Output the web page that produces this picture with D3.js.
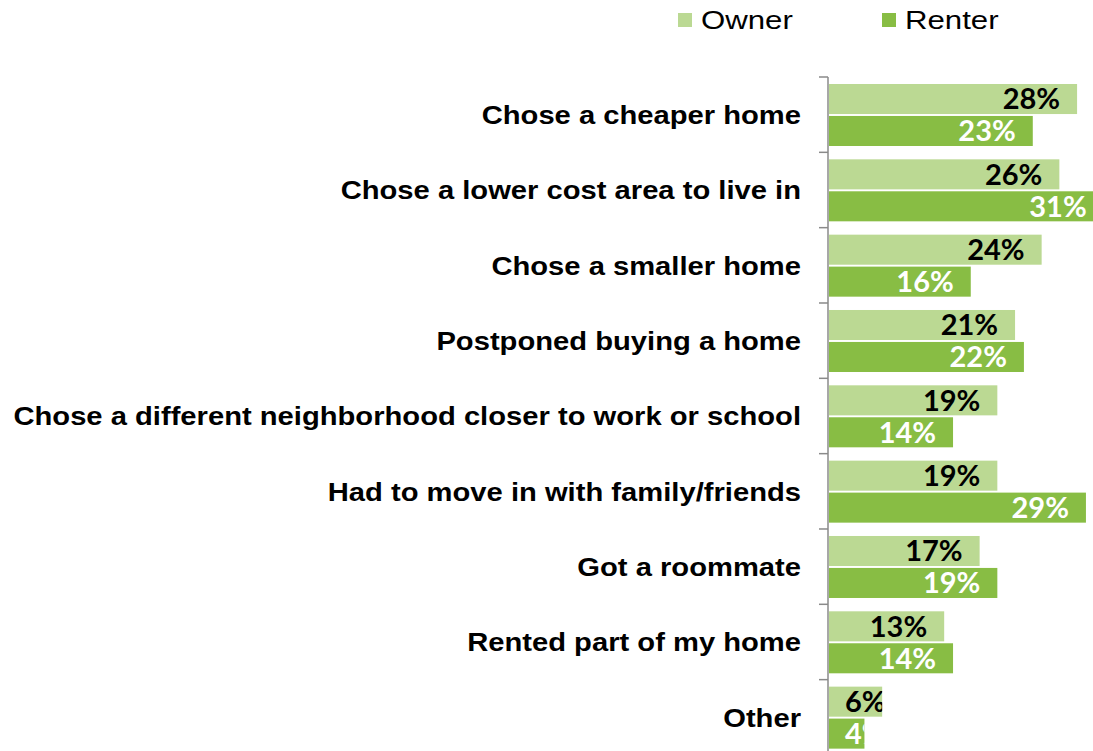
<!DOCTYPE html>
<html>
<head>
<meta charset="utf-8">
<script src="https://cdn.jsdelivr.net/npm/d3@7"></script>
<style>
  html, body { margin: 0; padding: 0; background: #fff; }
  svg { display: block; }
</style>
</head>
<body>
<svg id="chart" width="1093" height="751"></svg>
<script>
// Ways households cut housing costs, by tenure (percent)
const categories = [
  "Chose a cheaper home",
  "Chose a lower cost area to live in",
  "Chose a smaller home",
  "Postponed buying a home",
  "Chose a different neighborhood closer to work or school",
  "Had to move in with family/friends",
  "Got a roommate",
  "Rented part of my home",
  "Other"
];
const seriesNames = ["Owner", "Renter"];
const ownerValues  = [28, 26, 24, 21, 19, 19, 17, 13, 6];
const renterValues = [23, 31, 16, 22, 14, 29, 19, 14, 4];
const colors = { Owner: "#BBD993", Renter: "#88BD44" };

const rows = categories.map((c, i) => ({
  category: c,
  values: [
    { series: "Owner",  value: ownerValues[i] },
    { series: "Renter", value: renterValues[i] }
  ]
}));

const svg = d3.select("#chart");

const y0 = d3.scaleBand().domain(categories).range([77, 77 + 75.33 * categories.length]).padding(0);
const y1 = d3.scaleBand().domain(seriesNames).range([7, 69]).paddingInner(0.06);
const x = d3.scaleLinear().domain([0, 35]).range([829, 829 + 35 * 8.86]);

const defs = svg.append("defs");

// bars with value labels clipped to each bar
const groups = svg.append("g").selectAll("g.cat")
  .data(rows).join("g")
  .attr("class", "cat")
  .attr("transform", d => `translate(0,${y0(d.category)})`);

groups.each(function (d, i) {
  const g = d3.select(this);
  d.values.forEach((v, j) => {
    const by = y1(v.series);
    const bw = x(v.value) - x(0);
    const id = `clip-${i}-${j}`;
    defs.append("clipPath").attr("id", id)
      .append("rect")
      .attr("x", x(0)).attr("y", y0(d.category) + by)
      .attr("width", bw).attr("height", y1.bandwidth());
    g.append("rect")
      .attr("x", x(0)).attr("y", by)
      .attr("width", bw).attr("height", y1.bandwidth())
      .attr("fill", colors[v.series]);
    const t = svg.append("text")
      .attr("clip-path", `url(#${id})`)
      .attr("y", y0(d.category) + by + y1.bandwidth() / 2)
      .attr("dy", "0.36em")
      .attr("font-family", "Lato, 'Open Sans', sans-serif")
      .attr("font-weight", "bold")
      .attr("font-size", 29)
      .attr("fill", v.series === "Owner" ? "#000" : "#fff")
      .text(v.value + "%");
    const w = t.node().getComputedTextLength();
    const end = Math.max(x(v.value) - 17, x(0) + 16 + w);
    t.attr("x", end).attr("text-anchor", "end");
  });
});

// category axis
const axisColor = "#8A8A8A";
svg.append("line")
  .attr("x1", 828).attr("x2", 828)
  .attr("y1", y0.range()[0]).attr("y2", y0.range()[1])
  .attr("stroke", axisColor).attr("stroke-width", 1.5);
const boundaries = categories.map(c => y0(c)).concat([y0.range()[1]]);
svg.append("g").selectAll("line")
  .data(boundaries).join("line")
  .attr("x1", 819).attr("x2", 828)
  .attr("y1", d => d).attr("y2", d => d)
  .attr("stroke", axisColor).attr("stroke-width", 1.5);

// category labels
svg.append("g").selectAll("text")
  .data(categories).join("text")
  .attr("transform", d => `translate(801,${y0(d) + y0.bandwidth() / 2}) scale(1.122,1)`)
  .attr("dy", "0.36em")
  .attr("text-anchor", "end")
  .attr("font-family", "'Liberation Sans', Arial, sans-serif")
  .attr("font-weight", "bold")
  .attr("font-size", 26)
  .attr("fill", "#000")
  .text(d => d);

// legend
const legendX = { Owner: 678, Renter: 882 };
const legend = svg.append("g").selectAll("g")
  .data(seriesNames).join("g")
  .attr("transform", d => `translate(${legendX[d]},13)`);
legend.append("rect")
  .attr("width", 14).attr("height", 14)
  .attr("fill", d => colors[d]);
legend.append("text")
  .attr("transform", "translate(23,16) scale(1.2,1)")
  .attr("font-family", "'Liberation Sans', Arial, sans-serif")
  .attr("font-size", 26)
  .attr("fill", "#000")
  .text(d => d);
</script>
</body>
</html>
